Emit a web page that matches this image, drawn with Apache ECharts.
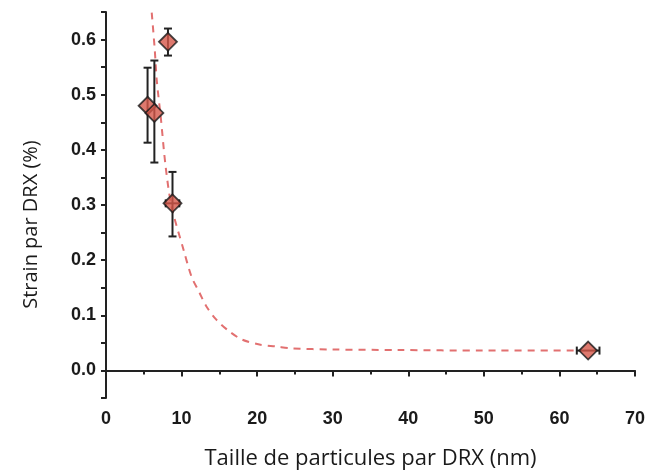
<!DOCTYPE html>
<html><head><meta charset="utf-8">
<script src="https://cdn.jsdelivr.net/npm/echarts@6/dist/echarts.min.js"></script>
<style>html,body{margin:0;padding:0;background:#fff}#c{width:648px;height:475px}</style>
</head><body><div id="c"></div>
<script>
// Measured points
var sizeNm   = [5.5, 6.4, 8.2, 8.8, 63.8];
var strain   = [0.480, 0.467, 0.596, 0.303, 0.036];
var strainLo = [0.413, 0.377, 0.571, 0.243, 0.036];
var strainHi = [0.549, 0.562, 0.620, 0.360, 0.036];
var sizeLo   = [5.5, 6.4, 8.2, 7.9, 62.3];
var sizeHi   = [5.5, 6.4, 8.2, 9.7, 65.3];
// Dashed fit curve
var fitX = [6.05, 6.45, 6.71, 7.24, 7.89, 8.68, 10.26, 11.32, 12.37, 13.29, 14.6, 16.3, 18.0, 20.3, 22.5, 24.6, 30.0, 38.7, 50.0, 62.0];
var fitY = [0.649, 0.582, 0.527, 0.460, 0.370, 0.297, 0.219, 0.170, 0.141, 0.116, 0.092, 0.071, 0.056, 0.047, 0.0435, 0.040, 0.038, 0.037, 0.036, 0.036];

var fitData = fitX.map(function(x,i){return [x, fitY[i]];});
var ptData = sizeNm.map(function(x,i){return [x, strain[i]];});
var errData = sizeNm.map(function(x,i){return [x, strain[i], strainLo[i], strainHi[i], sizeLo[i], sizeHi[i]];});

var chart = echarts.init(document.getElementById('c'));
var labelFont = {fontFamily:'Liberation Sans', fontWeight:'bold', fontSize:18, color:'#1a1a1a'};
chart.setOption({
  animation:false,
  grid:{left:106, right:11, top:12, bottom:74},
  xAxis:{
    type:'value', min:0, max:70, interval:10,
    axisLine:{lineStyle:{color:'#222', width:2}},
    axisTick:{show:true, inside:false, length:6, lineStyle:{color:'#222', width:2}},
    minorTick:{show:true, splitNumber:2, length:4, lineStyle:{color:'#222', width:2}},
    splitLine:{show:false},
    axisLabel:Object.assign({margin:12}, labelFont),
    name:'Taille de particules par DRX (nm)', nameLocation:'middle', nameGap:50,
    nameTextStyle:{fontFamily:'Open Sans', fontSize:22, color:'#1a1a1a'}
  },
  yAxis:{
    type:'value', min:-0.05, max:0.65, interval:0.05,
    axisLine:{onZero:false, lineStyle:{color:'#222', width:2}},
    axisTick:{show:true, inside:false, length:5, lineStyle:{color:'#222', width:2}},
    splitLine:{show:false},
    axisLabel:Object.assign({margin:10, showMaxLabel:true, formatter:function(v){
      var k = Math.round(v*100);
      if (k < 0 || k % 10 !== 0) return '';
      return (k/100).toFixed(1);
    }}, labelFont),
    name:'Strain par DRX (%)', nameLocation:'middle', nameGap:65, nameRotate:90,
    nameTextStyle:{fontFamily:'Open Sans', fontSize:20, color:'#1a1a1a', padding:[0,0,0,-39]}
  },
  series:[
    {type:'line', data:fitData, smooth:0.3, showSymbol:false, z:1,
     lineStyle:{color:'#e27070', width:2, type:[7,6]}},
    {type:'custom', z:2, data:errData,
     renderItem:function(params, api){
       var x = api.value(0), y = api.value(1);
       var lo = api.coord([x, api.value(2)]), hi = api.coord([x, api.value(3)]);
       var l = api.coord([api.value(4), y]), r = api.coord([api.value(5), y]);
       var st = {stroke:'#222', lineWidth:2};
       var ch = [];
       if (Math.abs(hi[1]-lo[1]) > 1) {
         ch.push({type:'line', shape:{x1:lo[0], y1:lo[1], x2:hi[0], y2:hi[1]}, style:st});
         ch.push({type:'line', shape:{x1:lo[0]-4, y1:lo[1], x2:lo[0]+4, y2:lo[1]}, style:st});
         ch.push({type:'line', shape:{x1:hi[0]-4, y1:hi[1], x2:hi[0]+4, y2:hi[1]}, style:st});
       }
       if (Math.abs(r[0]-l[0]) > 1) {
         ch.push({type:'line', shape:{x1:l[0], y1:l[1], x2:r[0], y2:r[1]}, style:st});
         ch.push({type:'line', shape:{x1:l[0], y1:l[1]-4, x2:l[0], y2:l[1]+4}, style:st});
         ch.push({type:'line', shape:{x1:r[0], y1:r[1]-4, x2:r[0], y2:r[1]+4}, style:st});
       }
       return {type:'group', children:ch};
     }},
    {type:'scatter', z:3, data:ptData, symbol:'diamond', symbolSize:[18,18],
     itemStyle:{color:'#d6574a', borderColor:'#1a1a1a', borderWidth:1.8}}
  ]
});
</script></body></html>
